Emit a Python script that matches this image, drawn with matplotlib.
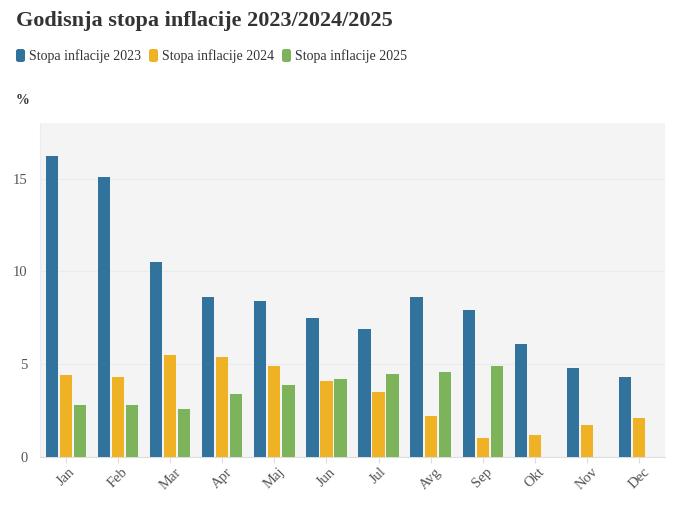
import matplotlib
matplotlib.use("Agg")
import matplotlib.pyplot as plt
from matplotlib.patches import FancyBboxPatch
import numpy as np

months = ["Jan", "Feb", "Mar", "Apr", "Maj", "Jun", "Jul", "Avg", "Sep", "Okt", "Nov", "Dec"]
infl_2023 = [16.2, 15.1, 10.5, 8.6, 8.4, 7.5, 6.9, 8.6, 7.9, 6.1, 4.8, 4.3]
infl_2024 = [4.4, 4.3, 5.5, 5.4, 4.9, 4.1, 3.5, 2.2, 1.0, 1.2, 1.7, 2.1]
infl_2025 = [2.8, 2.8, 2.6, 3.4, 3.9, 4.2, 4.5, 4.6, 4.9, None, None, None]
series_names = ["Stopa inflacije 2023", "Stopa inflacije 2024", "Stopa inflacije 2025"]
colors = ["#31739c", "#efb224", "#7db35a"]

plt.rcParams["font.family"] = ["Liberation Serif", "DejaVu Serif"]

fig = plt.figure(figsize=(6.82, 5.31), dpi=100)
ax = fig.add_axes([40 / 682, 1 - 457 / 531, 625 / 682, 334 / 531])
ax.set_facecolor("#f4f4f4")

x = np.arange(len(months))
width = 0.235
step = 0.27
for i, (vals, c) in enumerate(zip([infl_2023, infl_2024, infl_2025], colors)):
    xs = [xi + (i - 1) * step for xi, v in zip(x, vals) if v is not None]
    vs = [v for v in vals if v is not None]
    ax.bar(xs, vs, width=width, color=c, zorder=3)

ax.set_xlim(-0.5, 11.5)
ax.set_ylim(0, 18)
ax.set_yticks([0, 5, 10, 15])
ax.set_xticks(x)
ax.set_xticklabels(months, rotation=45, fontsize=10.5, color="#555555")
ax.tick_params(axis="y", length=0, labelsize=10.5, labelcolor="#555555", pad=9)
ax.tick_params(axis="x", length=4, color="#dddddd", pad=2)
ax.grid(axis="y", color="#ebebeb", linewidth=0.8, zorder=0)
for s in ["top", "right"]:
    ax.spines[s].set_visible(False)
ax.spines["left"].set_color("#ececec")
ax.spines["bottom"].set_color("#dddddd")

fig.text(16 / 682, 1 - 21 / 531, "Godisnja stopa inflacije 2023/2024/2025", fontsize=16,
         fontweight="bold", color="#333333", va="center")
fig.text(16 / 682, 1 - 101 / 531, "%", fontsize=10, fontweight="bold", color="#333333", va="center")

# legend
leg_x = [16, 149, 282]
for lx, name, c in zip(leg_x, series_names, colors):
    box = FancyBboxPatch(((lx) / 682, 1 - 62 / 531), 9 / 682, 13 / 531,
                         boxstyle="round,pad=0,rounding_size=0.004", transform=fig.transFigure,
                         facecolor=c, edgecolor="none")
    fig.patches.append(box)
    fig.text((lx + 13) / 682, 1 - 56 / 531, name, fontsize=10, color="#333333", va="center")

fig.savefig("out.png", dpi=100)
